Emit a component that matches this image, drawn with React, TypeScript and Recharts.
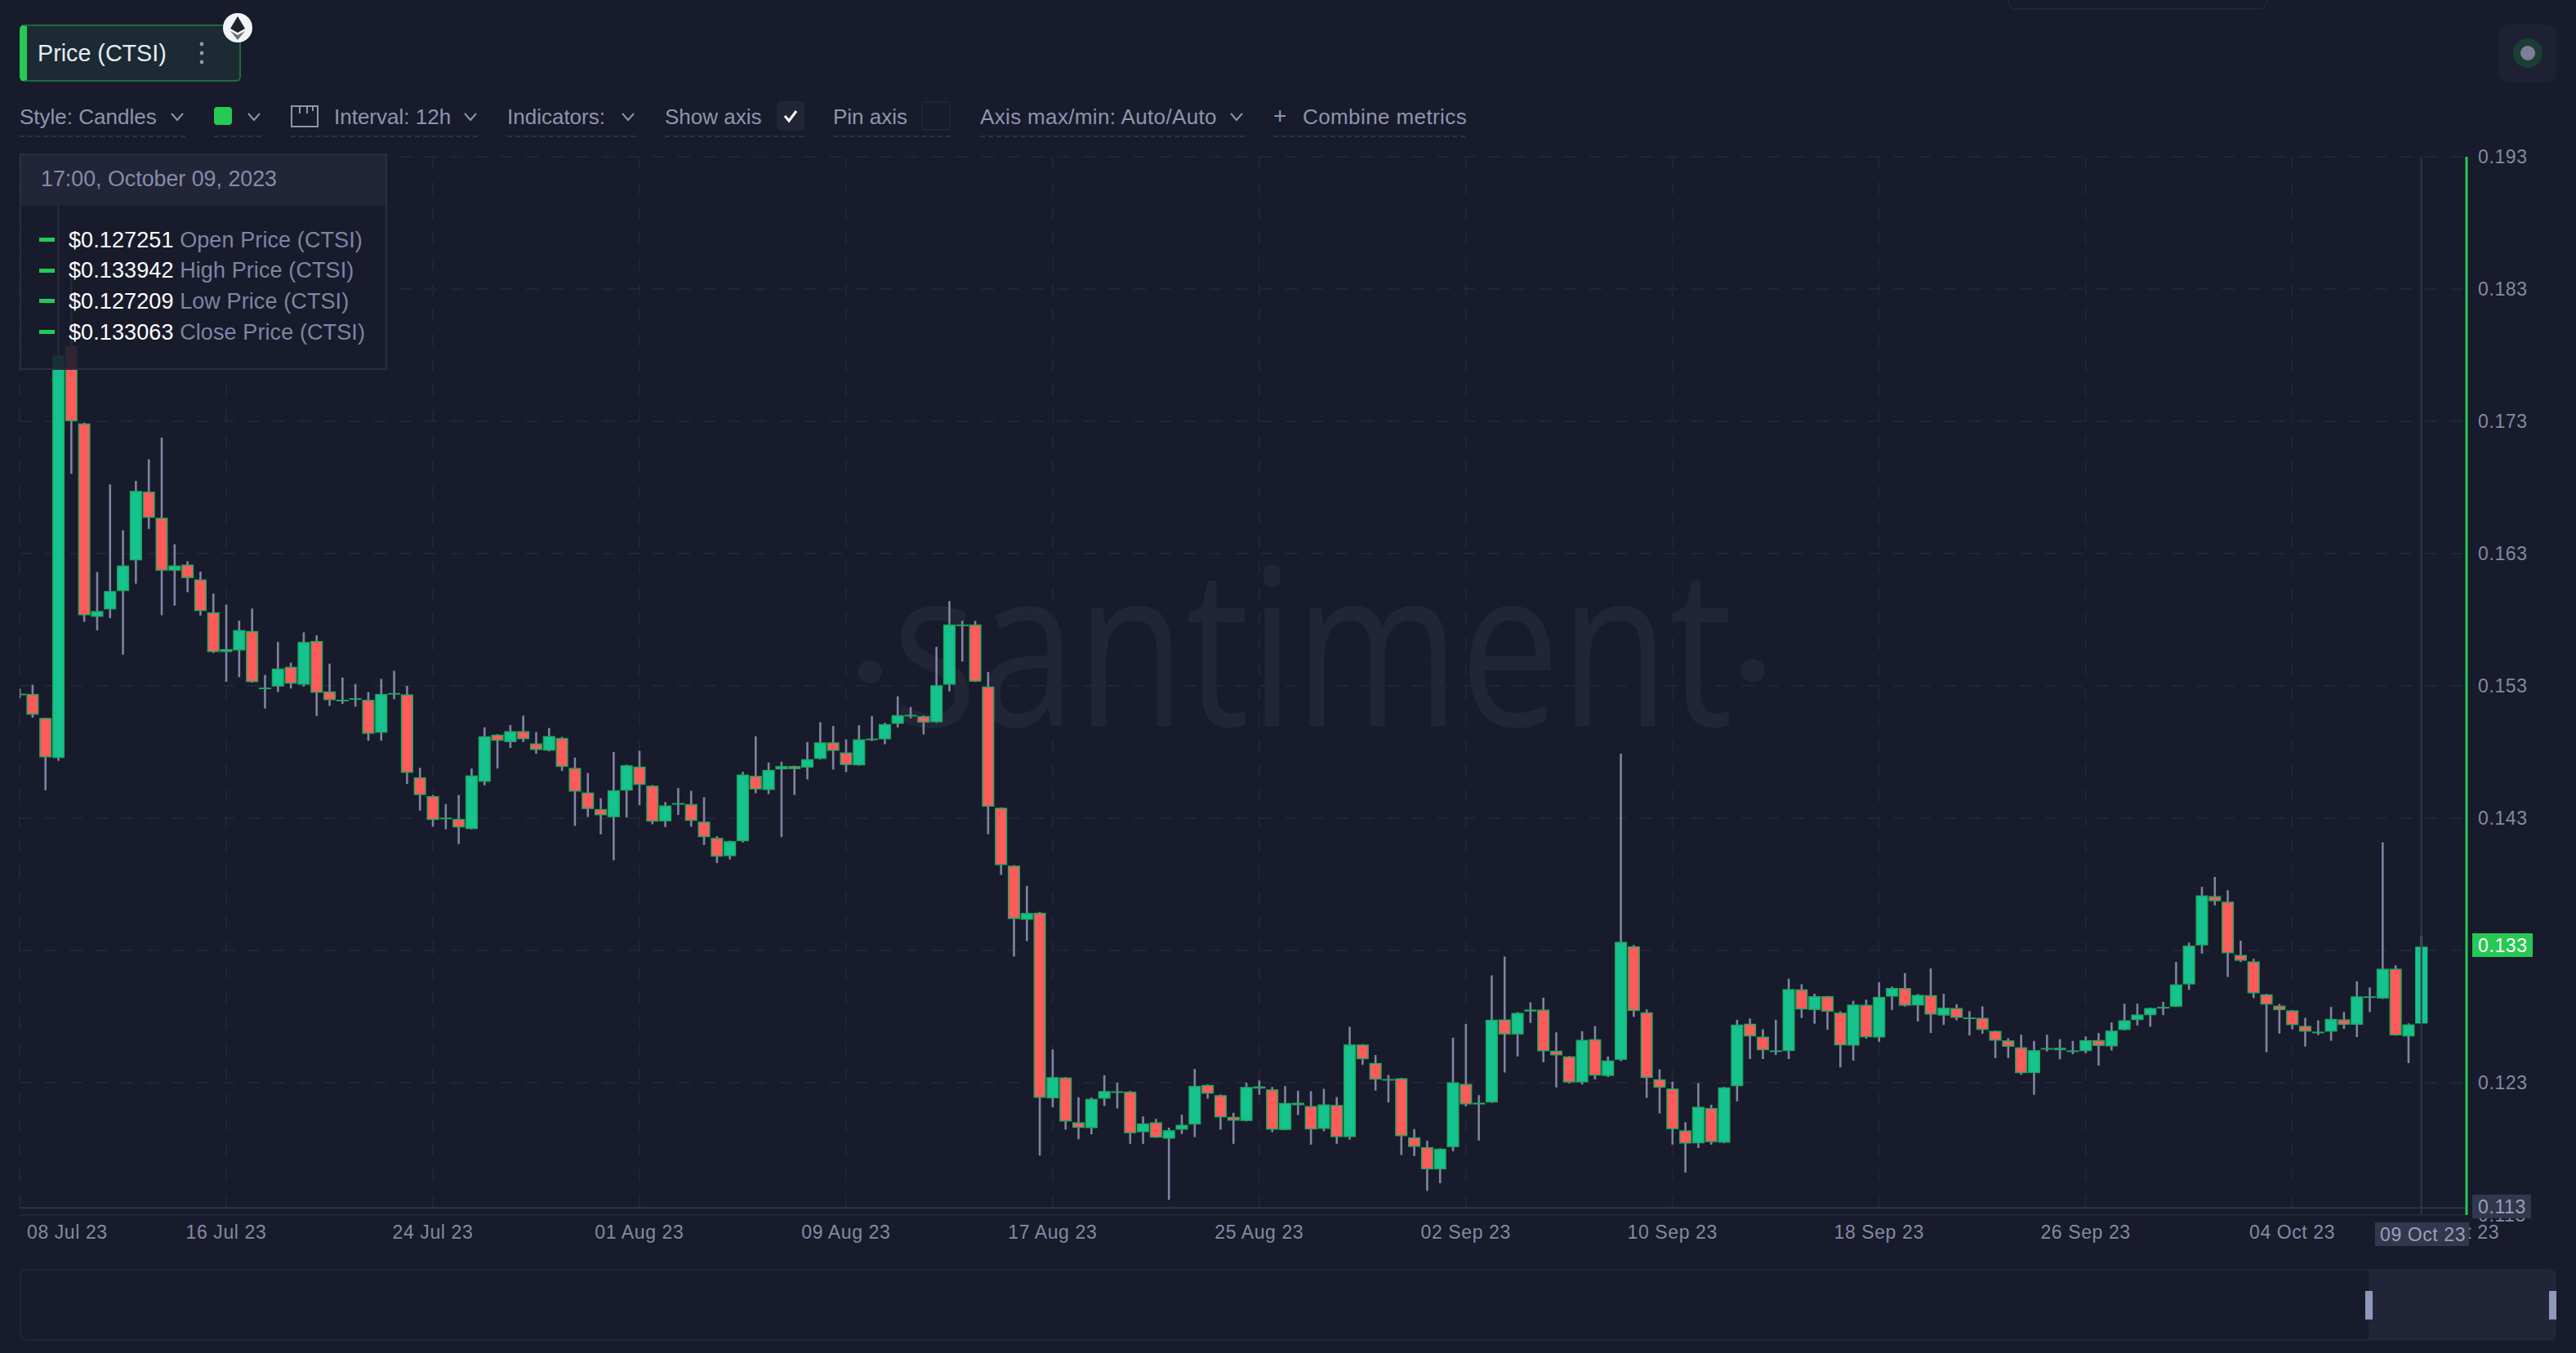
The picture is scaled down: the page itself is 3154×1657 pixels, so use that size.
import React from "react";
import { ComposedChart, Bar, XAxis, YAxis, CartesianGrid, ReferenceLine } from "recharts";

// Prices in units of 0.00001 USD, one candle every 12h from 08 Jul 23
const openPrices = [
  15239,15239,15058,14755,17872,17284,15822,15878,16017,16249,
  16769,16571,16171,16217,16105,15856,15556,15568,15715,15275,
  15295,15444,15309,15639,15258,15195,15200,15195,14946,15241,
  15236,14609,14467,14304,14294,14218,14575,14931,14875,14958,
  14865,14811,14906,14680,14494,14369,14307,14509,14690,14546,
  14276,14402,14406,14274,14151,14013,14126,14620,14513,14669,
  14694,14682,14748,14873,14797,14700,14900,14896,15013,15081,
  15071,15025,15309,15758,15764,15295,14379,13941,13532,13585,
  12182,12340,12001,11957,12180,12235,12233,11926,12001,11877,
  11945,11984,12283,12206,12042,12011,12272,12250,11943,12149,
  12124,11951,12132,11889,12589,12449,12320,12334,11887,11813,
  11645,11813,12291,12136,12151,12778,12665,12838,12853,12542,
  12499,12302,12629,12351,12473,13331,12832,12326,12256,11940,
  11842,12109,11847,12274,12746,12648,12544,12540,13006,12850,
  12954,12830,12581,12889,12642,12951,13016,12884,12962,12808,
  12865,12785,12791,12692,12620,12568,12373,12551,12564,12544,
  12539,12622,12575,12699,12774,12811,12862,12875,13043,13338,
  13711,13669,13266,13217,12968,12883,12847,12730,12679,12686,
  12779,12738,12953,12937,13162,12650,12748,
];
const highPrices = [
  15280,15309,15060,19080,18386,17290,16161,16823,16476,16850,
  17013,17177,16371,16242,16164,15998,15915,15793,15885,15383,
  15632,15475,15705,15683,15468,15363,15314,15253,15353,15414,
  15300,14680,14475,14406,14475,14675,14987,14935,15004,15075,
  14951,14982,14914,14758,14641,14451,14801,14705,14809,14550,
  14422,14527,14507,14459,14163,14130,14651,14920,14721,14727,
  14697,14875,15025,14997,14896,15003,15071,15021,15221,15141,
  15077,15595,15941,15793,15791,15406,14382,13945,13789,13591,
  12552,12343,12190,12188,12357,12299,12239,12046,12027,11961,
  12058,12404,12287,12212,12073,12301,12317,12268,12274,12239,
  12237,12254,12192,12723,12592,12509,12359,12337,11949,11861,
  11805,12641,12744,12206,13112,13254,12834,12908,12943,12681,
  12502,12689,12728,12499,14788,13341,12854,12401,12308,12001,
  12297,12133,12268,12776,12785,12705,12776,13086,13045,12973,
  12957,12841,12919,12928,13060,13027,13129,12971,13164,12971,
  12893,12841,12878,12695,12637,12663,12616,12663,12629,12616,
  12650,12676,12756,12898,12898,12868,12911,13212,13359,13781,
  13856,13755,13374,13237,12972,12896,12850,12790,12772,12873,
  12836,13067,13020,14117,13188,12749,13411,
];
const lowPrices = [
  15207,15060,14511,14733,16903,15785,15720,15812,15536,16073,
  16486,15834,15907,16008,15832,15549,15331,15366,15325,15129,
  15253,15280,15295,15073,15148,15163,15143,14885,14885,15200,
  14558,14357,14235,14216,14104,14215,14548,14675,14831,14875,
  14787,14805,14657,14241,14309,14178,13982,14305,14398,14254,
  14233,14324,14235,14097,13961,13988,14116,14488,14482,14157,
  14476,14593,14743,14667,14649,14698,14883,14859,14986,15054,
  14933,15020,15258,15484,15330,14178,13871,13254,13371,11749,
  12114,11945,11873,11910,12124,12105,11838,11838,11883,11414,
  11912,11889,12180,11945,11838,12008,12210,11926,11941,12056,
  11832,11933,11838,11869,12435,12241,12151,11754,11745,11482,
  11540,11782,12120,11863,12147,12377,12499,12752,12455,12265,
  12295,12286,12325,12343,12464,12798,12185,12068,11832,11621,
  11806,11832,11842,12159,12479,12479,12510,12479,12789,12746,
  12700,12416,12466,12633,12609,12850,12876,12763,12676,12737,
  12772,12657,12670,12486,12486,12360,12209,12536,12477,12516,
  12523,12430,12544,12695,12733,12723,12811,12872,13002,13276,
  13641,13100,13212,12940,12531,12671,12704,12573,12660,12617,
  12707,12645,12834,12933,12655,12448,12745,
];
const closePrices = [
  15241,15082,14760,17799,17301,15834,15866,16017,16210,16774,
  16571,16171,16210,16115,15866,15556,15578,15722,15329,15287,
  15431,15317,15632,15248,15192,15194,15207,14938,15239,15246,
  14643,14475,14287,14303,14230,14623,14919,14885,14958,14897,
  14816,14921,14688,14501,14369,14322,14511,14700,14552,14274,
  14396,14414,14280,14157,14009,14126,14630,14517,14665,14694,
  14671,14746,14873,14809,14702,14896,14901,15011,15079,15075,
  15023,15305,15764,15764,15332,14387,13945,13538,13583,12186,
  12342,12007,11959,12178,12237,12234,11918,11992,11885,11941,
  11982,12276,12217,12038,12013,12268,12256,11945,12147,12130,
  11947,12136,11889,12589,12478,12324,12328,11896,11815,11645,
  11801,12303,12136,12149,12776,12665,12828,12853,12538,12507,
  12302,12624,12354,12468,13365,12843,12336,12263,11949,11840,
  12118,11851,12265,12739,12650,12546,12543,13008,12854,12954,
  12837,12583,12891,12644,12949,13016,12882,12964,12815,12867,
  12791,12793,12700,12618,12572,12373,12546,12562,12546,12542,
  12622,12578,12694,12772,12816,12865,12873,13043,13336,13716,
  13672,13279,13222,12976,12891,12849,12736,12686,12686,12782,
  12738,12953,12945,13162,12658,12741,13328,
];
const PRICE_UNIT = 100000;

const xTickIndexes = [0, 16, 32, 48, 64, 80, 96, 112, 128, 144, 160, 176];
const xTickLabels = ["08 Jul 23", "16 Jul 23", "24 Jul 23", "01 Aug 23", "09 Aug 23", "17 Aug 23", "25 Aug 23", "02 Sep 23", "10 Sep 23", "18 Sep 23", "26 Sep 23", "04 Oct 23"];
const yTicks = [0.113, 0.123, 0.133, 0.143, 0.153, 0.163, 0.173, 0.183, 0.193];
const tooltipRows = [
  ["$0.127251", "Open Price (CTSI)"],
  ["$0.133942", "High Price (CTSI)"],
  ["$0.127209", "Low Price (CTSI)"],
  ["$0.133063", "Close Price (CTSI)"],
];

const candles = openPrices.map((open, i) => ({
  index: i,
  open: open / PRICE_UNIT,
  high: highPrices[i] / PRICE_UNIT,
  low: lowPrices[i] / PRICE_UNIT,
  close: closePrices[i] / PRICE_UNIT,
}));

const BG = "#181b2b";
const FONT = "'Liberation Sans', Arial, sans-serif";
const MUTED = "#8489a5";
const LABEL = "#8f94b0";
const GREEN = "#26c953";
const BODY_GREEN = "#14c38e";
const BODY_RED = "#ff5b5b";
const BORDER = "#22a860";
const WICK = "#7f84a2";
const GRID = "#212536";

function Candle(props: any) {
  const { x, y, width, height, payload } = props;
  const cx = x + width / 2;
  const range = payload.high - payload.low;
  const perUnit = height / range;
  const top = y + (payload.high - Math.max(payload.open, payload.close)) * perUnit;
  const bottom = y + (payload.high - Math.min(payload.open, payload.close)) * perUnit;
  const up = payload.close >= payload.open;
  const last = payload.index === candles.length - 1;
  const bodyH = Math.max(bottom - top - 1.5, 0.4);
  return (
    <g>
      <line x1={cx} x2={cx} y1={y} y2={y + height} stroke={WICK} strokeWidth={2.6} />
      <rect
        x={cx - 6.8}
        y={top + 0.75}
        width={13.6}
        height={bodyH}
        fill={up ? BODY_GREEN : BODY_RED}
        stroke={last ? BODY_GREEN : BORDER}
        strokeWidth={1.5}
      />
    </g>
  );
}

function XTick(props: any) {
  const { x, payload } = props;
  const i = xTickIndexes.indexOf(payload.value);
  const first = i === 0;
  return (
    <text
      x={first ? 33 : x}
      y={1509}
      dy="0.35em"
      textAnchor={first ? "start" : "middle"}
      fill={MUTED}
      fontSize={23}
      letterSpacing={0.6}
      fontFamily={FONT}
    >
      {xTickLabels[i]}
    </text>
  );
}

function YTick(props: any) {
  const { y, payload } = props;
  return (
    <text x={3034} y={y} dy="0.35em" fill={MUTED} fontSize={23} letterSpacing={0.6} fontFamily={FONT}>
      {payload.value.toFixed(3)}
    </text>
  );
}

function Abs({ l, t, w, h, style, children }: any) {
  return (
    <div style={{ position: "absolute", left: l, top: t, width: w, height: h, boxSizing: "border-box", ...style }}>{children}</div>
  );
}

function Txt({ x, cy, size = 26, color = LABEL, children, style }: any) {
  return (
    <div
      style={{
        position: "absolute",
        left: x,
        top: cy - 20,
        height: 40,
        lineHeight: "40px",
        fontSize: size,
        color,
        fontFamily: FONT,
        whiteSpace: "nowrap",
        ...style,
      }}
    >
      {children}
    </div>
  );
}

function Chevron({ x, cy }: any) {
  return (
    <svg style={{ position: "absolute", left: x - 9, top: cy - 6 }} width={18} height={12}>
      <path d="M2 2 L9 10 L16 2" fill="none" stroke={LABEL} strokeWidth={2} />
    </svg>
  );
}

function Dashed({ x, w }: any) {
  return <div style={{ position: "absolute", left: x, top: 166, width: w, borderTop: "2px dashed #2e3246" }} />;
}

export default function App() {
  return (
    <div style={{ position: "absolute", left: 0, top: 0, width: 3154, height: 1657, background: BG, overflow: "hidden" }}>
      {/* watermark */}
      <svg style={{ position: "absolute", left: 0, top: 0 }} width={3154} height={1657}>
        <ellipse cx={1065} cy={823} rx={15} ry={14} fill="#212536" />
        <ellipse cx={2146} cy={821} rx={15} ry={14} fill="#212536" />
        <text
          x={1092}
          y={889}
          fontFamily="'Open Sans', sans-serif"
          fontSize={270}
          textLength={1030}
          lengthAdjust="spacingAndGlyphs"
          fill="#212536"
        >
          santiment
        </text>
      </svg>

      <div style={{ position: "absolute", left: 0, top: 0 }}>
        <ComposedChart
          width={3154}
          height={1657}
          data={candles}
          margin={{ top: 192, right: 0, bottom: 109, left: 24 }}
        >
          <CartesianGrid stroke={GRID} strokeWidth={2} strokeDasharray="15 16" />
          <XAxis
            dataKey="index"
            type="number"
            domain={[0, 189.5]}
            ticks={xTickIndexes}
            interval={0}
            height={60}
            tick={<XTick />}
            tickLine={false}
            axisLine={{ stroke: "#232738", strokeWidth: 2 }}
            allowDataOverflow
          />
          <YAxis
            orientation="right"
            type="number"
            domain={[0.113, 0.193]}
            ticks={yTicks}
            interval={0}
            width={134}
            tick={<YTick />}
            tickLine={false}
            axisLine={{ stroke: GREEN, strokeWidth: 3 }}
            allowDataOverflow
          />
          <ReferenceLine y={0.11354} stroke="#2f3346" strokeWidth={2} />
          <Bar
            dataKey={(d: any) => [d.low, d.high]}
            barSize={14}
            shape={<Candle />}
            isAnimationActive={false}
          />
          <ReferenceLine x={186} stroke="#33374a" strokeWidth={2} />
        </ComposedChart>
      </div>

      {/* axis label partly covered by the hover flag, and the hover flags */}
      <Txt x={2955} cy={1509} size={23} color={MUTED} style={{ letterSpacing: 0.6 }}>12 Oct 23</Txt>
      <Abs l={2908} t={1497} w={115} h={29} style={{ background: "#33374d" }} />
      <Txt x={2914} cy={1511.5} size={23} color="#9a9fb8" style={{ letterSpacing: 0.6 }}>09 Oct 23</Txt>
      <Abs l={3027} t={1463} w={72} h={29} style={{ background: "#33374d" }} />
      <Txt x={3034} cy={1477.5} size={23} color="#9a9fb8" style={{ letterSpacing: 0.6 }}>0.113</Txt>
      <Abs l={3027} t={1143} w={74} h={29} style={{ background: GREEN }} />
      <Txt x={3034} cy={1157.5} size={23} color="#ffffff" style={{ letterSpacing: 0.6 }}>0.133</Txt>

      {/* tooltip */}
      <Abs l={24} t={188} w={450} h={265} style={{ background: "rgba(24,27,43,0.88)", border: "2px solid #2a2e41" }}>
        <div style={{ height: 62, background: "#222537" }} />
      </Abs>
      <Txt x={50} cy={219} size={26.8} color="#868bab">17:00, October 09, 2023</Txt>
      {tooltipRows.map((r, i) => (
        <React.Fragment key={r[1]}>
          <Abs l={48} t={291 + i * 37.7} w={19} h={5} style={{ background: GREEN }} />
          <Txt x={84} cy={293.5 + i * 37.7} size={27} color="#7f84a4" style={{ letterSpacing: 0.1 }}>
            <span style={{ color: "#ffffff" }}>{r[0]}</span> {r[1]}
          </Txt>
        </React.Fragment>
      ))}

      {/* metric pill */}
      <Abs l={24} t={30} w={271} h={70} style={{ background: "#1b2a33", border: "2px solid #1f6b3d", borderLeft: `9px solid ${GREEN}`, borderRadius: 6 }} />
      <Txt x={46} cy={65} size={28.7} color="#e8eaf2">Price (CTSI)</Txt>
      <svg style={{ position: "absolute", left: 240, top: 50 }} width={14} height={32}>
        <circle cx={7} cy={4} r={2.4} fill={LABEL} />
        <circle cx={7} cy={15} r={2.4} fill={LABEL} />
        <circle cx={7} cy={26} r={2.4} fill={LABEL} />
      </svg>
      <svg style={{ position: "absolute", left: 272, top: 15 }} width={38} height={38}>
        <circle cx={19} cy={19} r={18} fill="#f2f3f7" />
        <path d="M19 5 L28 20 L19 25 L10 20 Z" fill="#20222c" />
        <path d="M10 23 L19 28 L28 23 L19 34 Z" fill="#6b6e7c" />
      </svg>

      {/* controls row */}
      <Txt x={24} cy={143}>Style: Candles</Txt>
      <Chevron x={217} cy={143} />
      <Abs l={262} t={131} w={22} h={22} style={{ background: GREEN, borderRadius: 4 }} />
      <Chevron x={311} cy={143} />
      <svg style={{ position: "absolute", left: 356, top: 129 }} width={34} height={27}>
        <path d="M1 1 H33 V26 H1 Z M11 1 V10 M20 1 V10 M27 1 V7" fill="none" stroke={LABEL} strokeWidth={2} />
      </svg>
      <Txt x={409} cy={143}>Interval: 12h</Txt>
      <Chevron x={576} cy={143} />
      <Txt x={621} cy={143}>Indicators:</Txt>
      <Chevron x={769} cy={143} />
      <Txt x={814} cy={143}>Show axis</Txt>
      <Abs l={951} t={124} w={34} h={36} style={{ background: "#222537", borderRadius: 5 }} />
      <svg style={{ position: "absolute", left: 958, top: 134 }} width={20} height={16}>
        <path d="M3 8 L8 14 L17 2" fill="none" stroke="#ffffff" strokeWidth={3} />
      </svg>
      <Txt x={1020} cy={143}>Pin axis</Txt>
      <Abs l={1128} t={124} w={36} h={36} style={{ border: "2px solid #222537", borderRadius: 5 }} />
      <Txt x={1200} cy={143} style={{ letterSpacing: 0.35 }}>Axis max/min: Auto/Auto</Txt>
      <Chevron x={1514} cy={143} />
      <Txt x={1559} cy={142} size={28}>+</Txt>
      <Txt x={1595} cy={143} style={{ letterSpacing: 0.4 }}>Combine metrics</Txt>
      <Dashed x={24} w={203} />
      <Dashed x={262} w={58} />
      <Dashed x={356} w={229} />
      <Dashed x={621} w={157} />
      <Dashed x={814} w={170} />
      <Dashed x={1020} w={144} />
      <Dashed x={1200} w={324} />
      <Dashed x={1559} w={235} />

      {/* top-right controls */}
      <Abs l={3059} t={30} w={71} h={71} style={{ background: "#1e2133", borderRadius: 12 }} />
      <svg style={{ position: "absolute", left: 3076, top: 46 }} width={38} height={38}>
        <circle cx={19} cy={19} r={18} fill="#1b3d33" />
        <circle cx={19} cy={19} r={9} fill="#7d7f98" />
      </svg>
      <Abs l={2458} t={-10} w={318} h={22} style={{ border: "2px solid #20243a", borderRadius: 10 }} />

      {/* range navigator */}
      <Abs l={24} t={1554} w={3106} h={88} style={{ border: "2px solid #20243a", borderRadius: 8 }} />
      <Abs l={2900} t={1555} w={228} h={86} style={{ background: "#222537" }} />
      <Abs l={2896} t={1581} w={9} h={35} style={{ background: "#8f98ba" }} />
      <Abs l={3121} t={1581} w={9} h={35} style={{ background: "#8f98ba" }} />
    </div>
  );
}
